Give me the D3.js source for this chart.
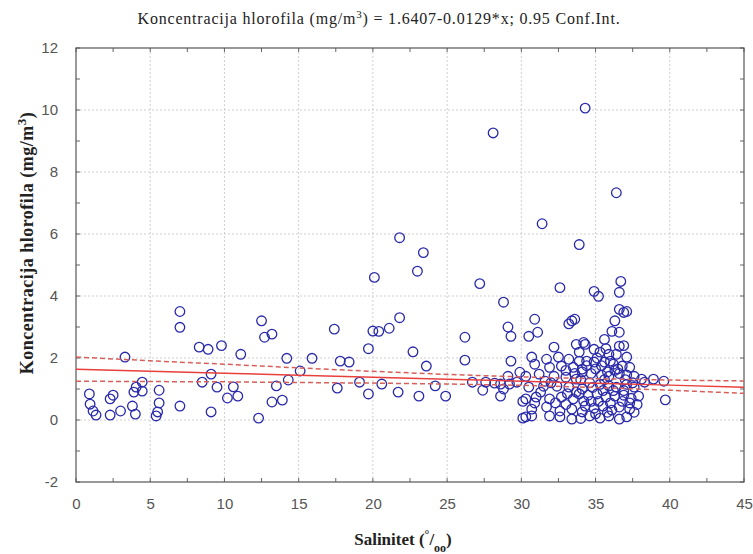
<!DOCTYPE html>
<html>
<head>
<meta charset="utf-8">
<script src="https://cdn.jsdelivr.net/npm/d3@7"></script>
<style>
  html, body { margin: 0; padding: 0; background: #fff; }
  svg { display: block; }
</style>
</head>
<body>
<svg id="chart" width="753" height="554"></svg>
<script>
// Salinity (‰) of each sample
const salinity = [
  0.9, 0.95, 1.15, 1.35, 2.3, 2.5, 2.3, 3.0, 3.3, 3.8, 4.0, 3.9, 4.05, 4.46, 4.46,
  5.6, 5.6, 5.5, 5.4, 7.0, 7.0, 7.0, 8.3, 8.9, 8.5, 9.1, 9.1, 9.5, 9.8,
  10.6, 10.2, 10.9, 11.1, 12.5, 12.7, 13.2, 12.3, 13.5, 13.2, 13.9, 14.2, 14.3,
  15.1, 15.9, 17.4, 17.6, 17.8, 18.4, 19.1, 19.7, 19.7,
  20.1, 20.0, 20.4, 21.1, 20.6, 21.8, 21.8, 21.7, 22.7, 23.0, 23.4, 23.1, 23.6, 24.2, 24.9,
  26.2, 26.2, 26.7, 27.2, 27.4, 27.6, 28.2, 28.6, 28.8, 28.6, 29.1,
  28.1, 28.8, 29.1, 29.3, 29.3, 29.9, 29.2, 29.7,
  30.1, 30.1, 30.9, 33.4, 33.2, 30.5, 31.1, 33.7, 34.2, 32.2, 30.7,
  31.7, 32.5, 33.2, 33.9, 30.9, 31.9, 32.7, 33.5, 34.1,
  30.3, 31.2, 32.2, 33.0, 33.7, 30.5, 31.5, 32.4, 33.2, 34.1,
  31.0, 31.9, 32.7, 33.5, 34.2, 30.3, 30.7, 31.7, 32.6, 33.4, 34.1,
  30.3, 30.7, 32.6, 33.4, 31.9,
  32.6, 34.9, 35.2, 36.7, 36.6, 33.6, 36.6, 36.9, 37.1, 36.3,
  36.1, 36.6, 35.6, 36.6, 34.3, 34.9, 33.9, 35.3, 35.9, 36.4, 37.1,
  34.4, 34.9, 35.6, 36.2, 36.8, 37.3, 34.1, 34.7, 35.4, 35.9, 36.6, 37.1, 37.6,
  38.1, 38.9, 39.6, 34.6, 35.3, 35.9, 36.4, 37.1, 37.6,
  33.9, 34.5, 35.1, 35.7, 36.3, 36.9, 37.4, 37.9,
  34.3, 34.9, 35.5, 36.1, 36.6, 37.3, 34.6, 35.3, 35.9, 36.6, 37.1,
  39.7, 34.3, 36.4, 31.4, 33.9,
  35.0, 35.6, 36.0, 36.8, 35.2, 34.0, 36.3, 37.5, 35.5, 36.9, 32.0, 31.3, 30.9, 33.0,
  34.8, 37.8, 35.8, 33.7, 38.3,
  33.0, 33.6, 34.4, 35.1, 35.7, 36.0, 36.5, 37.0, 37.3, 36.2, 35.0, 34.0, 33.1, 32.3,
  31.6, 35.8, 36.9, 37.6, 34.7, 35.4
];

// Chlorophyll concentration (mg/m³) of each sample
const chlorophyll = [
  0.84, 0.51, 0.29, 0.16, 0.68, 0.80, 0.16, 0.29, 2.03, 0.45, 0.19, 0.9, 1.06, 1.22, 0.93,
  0.96, 0.55, 0.26, 0.13, 3.5, 2.99, 0.45, 2.35, 2.28, 1.22, 1.48, 0.26, 1.06, 2.4,
  1.07, 0.71, 0.77, 2.12, 3.2, 2.67, 2.77, 0.06, 1.1, 0.58, 0.64, 1.99, 1.29,
  1.58, 1.99, 2.93, 1.03, 1.9, 1.87, 1.22, 2.3, 0.84,
  4.6, 2.87, 2.86, 2.96, 1.16, 3.3, 5.88, 0.9, 2.2, 4.8, 5.4, 0.77, 1.74, 1.1, 0.77,
  2.67, 1.93, 1.22, 4.4, 0.96, 1.22, 1.19, 1.16, 1.0, 0.77, 1.41,
  9.26, 3.8, 3.0, 2.7, 1.9, 1.54, 1.16, 1.22,
  0.6, 0.06, 3.25, 3.2, 3.1, 2.7, 2.83, 2.44, 2.5, 2.35, 2.03,
  1.96, 2.03, 1.96, 1.9, 1.8, 1.7, 1.74, 1.7, 1.64,
  1.41, 1.48, 1.41, 1.38, 1.32, 1.06, 1.09, 1.09, 1.06, 1.0,
  0.74, 0.68, 0.74, 0.68, 0.61, 0.68, 0.35, 0.42, 0.29, 0.35, 0.26,
  0.1, 0.13, 0.1, 0.03, 0.13,
  4.27, 4.15, 3.99, 4.47, 4.12, 3.25, 3.57, 3.47, 3.5, 3.2,
  2.86, 2.83, 2.6, 2.38, 2.44, 2.28, 2.19, 2.19, 2.12, 2.12, 2.03,
  1.9, 1.87, 1.87, 1.8, 1.74, 1.7, 1.55, 1.5, 1.45, 1.41, 1.5, 1.45, 1.41,
  1.32, 1.32, 1.25, 1.2, 1.15, 1.1, 1.06, 1.15, 1.06,
  0.84, 0.8, 0.84, 0.74, 0.77, 0.8, 0.7, 0.77,
  0.45, 0.38, 0.45, 0.32, 0.42, 0.35, 0.13, 0.06, 0.13, 0.03, 0.1,
  0.65, 10.06, 7.33, 6.33, 5.66,
  1.65, 1.3, 0.55, 0.6, 0.6, 1.3, 1.6, 1.2, 0.95, 0.95, 1.2, 0.9, 0.55, 0.5,
  1.05, 0.5, 0.25, 0.9, 1.22,
  1.6, 1.5, 1.75, 2.0, 2.3, 1.9, 1.65, 1.3, 0.55, 0.95, 0.2, 0.05, 0.85, 0.55,
  1.25, 1.55, 2.4, 0.25, 0.6, 1.75
];

// Fitted line and 0.95 confidence limits, sampled along the salinity axis
const fitX     = [0, 5, 10, 15, 20, 25, 30, 35, 40, 45];
const fitY     = [1.641, 1.576, 1.512, 1.447, 1.383, 1.318, 1.254, 1.189, 1.125, 1.060];
const upperCI  = [2.03, 1.91, 1.80, 1.68, 1.57, 1.47, 1.39, 1.33, 1.29, 1.26];
const lowerCI  = [1.25, 1.24, 1.23, 1.21, 1.19, 1.16, 1.12, 1.05, 0.96, 0.86];

const xTicks = [0, 5, 10, 15, 20, 25, 30, 35, 40, 45];
const yTicks = [-2, 0, 2, 4, 6, 8, 10, 12];

const svg = d3.select("#chart");
const plotL = 76, plotR = 744, plotT = 48, plotB = 482;

const x = d3.scaleLinear().domain([0, 45]).range([plotL, plotR]);
const y = d3.scaleLinear().domain([-2, 12]).range([plotB, plotT]);

// dotted grid
const grid = svg.append("g");
grid.selectAll("line.gx").data(xTicks.slice(1, -1)).join("line")
  .attr("x1", d => x(d)).attr("x2", d => x(d))
  .attr("y1", plotT).attr("y2", plotB)
  .attr("stroke", "#cfcfcf").attr("stroke-width", 1)
  .attr("stroke-dasharray", "2,2");
grid.selectAll("line.gy").data(yTicks.slice(1, -1)).join("line")
  .attr("y1", d => y(d)).attr("y2", d => y(d))
  .attr("x1", plotL).attr("x2", plotR)
  .attr("stroke", "#cfcfcf").attr("stroke-width", 1)
  .attr("stroke-dasharray", "2,2");

// axes with inward ticks, one tick per unit on y and per 2.5 on x
const yMinor = d3.range(-2, 12.01, 1);
const xMinor = d3.range(0, 45.01, 2.5);

const axisLeft = d3.axisLeft(y).tickValues(yTicks).tickFormat(d => String(d))
  .tickSize(0).tickPadding(18);
const gL = svg.append("g").attr("transform", `translate(${plotL},0)`).call(axisLeft);
const axisBottom = d3.axisBottom(x).tickValues(xTicks).tickFormat(d => String(d))
  .tickSize(0).tickPadding(16);
const gB = svg.append("g").attr("transform", `translate(0,${plotB})`).call(axisBottom);
[gL, gB].forEach(g => {
  g.select(".domain").remove();
  g.selectAll("text")
    .attr("fill", "#555")
    .style("font-family", "'Liberation Sans', Arial, sans-serif")
    .style("font-size", "15px");
});

const ticks = svg.append("g").attr("stroke", "#666").attr("stroke-width", 1);
ticks.selectAll("line.tl").data(yMinor).join("line")
  .attr("x1", plotL).attr("x2", plotL + 4).attr("y1", d => y(d)).attr("y2", d => y(d));
ticks.selectAll("line.tr").data(yMinor).join("line")
  .attr("x1", plotR - 4).attr("x2", plotR).attr("y1", d => y(d)).attr("y2", d => y(d));
ticks.selectAll("line.tb").data(xMinor).join("line")
  .attr("y1", plotB).attr("y2", plotB - 4).attr("x1", d => x(d)).attr("x2", d => x(d));
ticks.selectAll("line.tt").data(xMinor).join("line")
  .attr("y1", plotT).attr("y2", plotT + 4).attr("x1", d => x(d)).attr("x2", d => x(d));

// frame
svg.append("rect")
  .attr("x", plotL).attr("y", plotT)
  .attr("width", plotR - plotL).attr("height", plotB - plotT)
  .attr("fill", "none").attr("stroke", "#555").attr("stroke-width", 1.2);

// sample markers
const pts = d3.zip(salinity, chlorophyll);
svg.append("g").selectAll("circle").data(pts).join("circle")
  .attr("cx", d => x(d[0])).attr("cy", d => y(d[1]))
  .attr("r", 4.8)
  .attr("fill", "none")
  .attr("stroke", "#2a2aaa")
  .attr("stroke-width", 1.3);

// regression line and confidence limits
const line = d3.line().x(d => x(d[0])).y(d => y(d[1]));
svg.append("path").datum(d3.zip(fitX, upperCI)).attr("d", line)
  .attr("fill", "none").attr("stroke", "#d8605a").attr("stroke-width", 1.5)
  .attr("stroke-dasharray", "5,3");
svg.append("path").datum(d3.zip(fitX, lowerCI)).attr("d", line)
  .attr("fill", "none").attr("stroke", "#d8605a").attr("stroke-width", 1.5)
  .attr("stroke-dasharray", "5,3");
svg.append("path").datum(d3.zip(fitX, fitY)).attr("d", line)
  .attr("fill", "none").attr("stroke", "#e8403c").attr("stroke-width", 1.5);

// title
const title = svg.append("text")
  .attr("x", 379).attr("y", 24)
  .attr("text-anchor", "middle")
  .style("font-family", "'Liberation Serif', 'Times New Roman', serif")
  .style("font-size", "16px")
  .style("letter-spacing", "0.8px")
  .attr("fill", "#222");
title.append("tspan").text("Koncentracija hlorofila (mg/m");
title.append("tspan").attr("baseline-shift", "super").style("font-size", "11px").text("3");
title.append("tspan").text(") = 1.6407-0.0129*x; 0.95 Conf.Int.");

// x-axis title
const xt = svg.append("text")
  .attr("x", 403).attr("y", 545)
  .attr("text-anchor", "middle")
  .style("font-family", "'Liberation Serif', 'Times New Roman', serif")
  .style("font-size", "17px").style("font-weight", "bold")
  .attr("fill", "#222");
xt.append("tspan").text("Salinitet (");
xt.append("tspan").attr("baseline-shift", "super").style("font-size", "12px").text("°");
xt.append("tspan").text("/");
xt.append("tspan").attr("baseline-shift", "sub").style("font-size", "12px").text("oo");
xt.append("tspan").text(")");

// y-axis title
const yt = svg.append("text")
  .attr("transform", "translate(33,243) rotate(-90)")
  .attr("text-anchor", "middle")
  .style("font-family", "'Liberation Serif', 'Times New Roman', serif")
  .style("font-size", "18px").style("font-weight", "bold")
  .style("letter-spacing", "0.5px")
  .attr("fill", "#222");
yt.append("tspan").text("Koncentracija hlorofila (mg/m");
yt.append("tspan").attr("baseline-shift", "super").style("font-size", "13px").text("3");
yt.append("tspan").text(")");
</script>
</body>
</html>
